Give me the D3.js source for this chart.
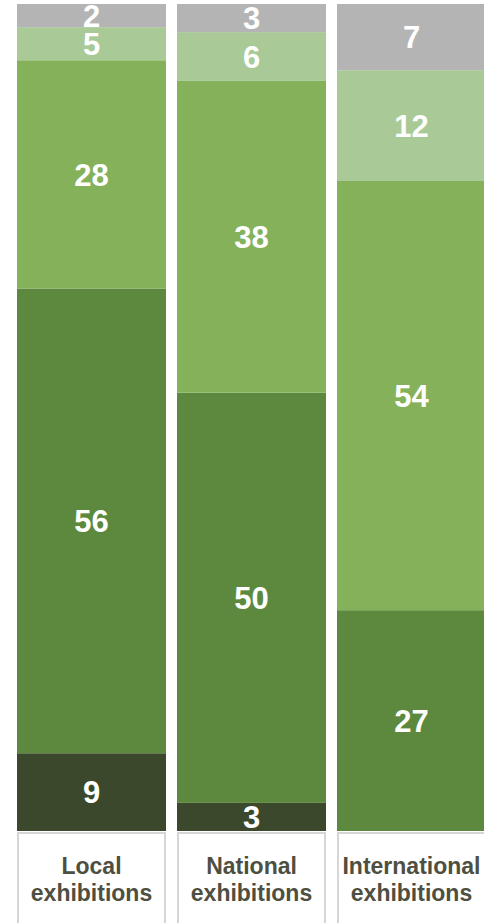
<!DOCTYPE html>
<html>
<head>
<meta charset="utf-8">
<script src="https://cdn.jsdelivr.net/npm/d3@7"></script>
<style>
  html, body { margin: 0; padding: 0; background: #fff; }
  svg { display: block; }
</style>
</head>
<body>
<script>
// categories, bottom line split in two
var categories = ["Local exhibitions", "National exhibitions", "International exhibitions"];
var catLines = [["Local", "exhibitions"], ["National", "exhibitions"], ["International", "exhibitions"]];

// segment keys, bottom to top
var keys = ["s1", "s2", "s3", "s4", "s5"];
var colors = ["#3b482b", "#5c893d", "#85b15b", "#a9ca96", "#b4b4b4"];

// shares (percent)
var s1 = [9.4, 3.4, 0];
var s2 = [56.2, 49.6, 26.7];
var s3 = [27.6, 37.7, 51.9];
var s4 = [4.0, 5.9, 13.4];
var s5 = [2.8, 3.4, 8.0];

// numbers printed on the segments
var lab1 = [9, 3, null];
var lab2 = [56, 50, 27];
var lab3 = [28, 38, 54];
var lab4 = [5, 6, 12];
var lab5 = [2, 3, 7];

var W = 484, H = 923;

var rows = categories.map(function(c, i) {
    return { cat: c, s1: s1[i], s2: s2[i], s3: s3[i], s4: s4[i], s5: s5[i] };
});
var labs = { s1: lab1, s2: lab2, s3: lab3, s4: lab4, s5: lab5 };

var svg = d3.select("body").append("svg")
    .attr("width", W)
    .attr("height", H);

var x = d3.scaleBand().domain(categories).range([17, 486]).paddingInner(0.06875).paddingOuter(0);
var y = d3.scaleLinear().domain([0, 100]).range([831, 4]);
var color = d3.scaleOrdinal().domain(keys).range(colors);

var series = d3.stack().keys(keys)(rows);

var layer = svg.selectAll("g.layer").data(series).enter().append("g")
    .attr("class", "layer")
    .attr("fill", function(d) { return color(d.key); });

layer.selectAll("rect").data(function(d) { return d; }).enter().append("rect")
    .attr("x", function(d) { return x(d.data.cat); })
    .attr("width", x.bandwidth())
    .attr("y", function(d) { return y(d[1]); })
    .attr("height", function(d) { return y(d[0]) - y(d[1]); });

// value labels
series.forEach(function(s) {
    svg.append("g").selectAll("text").data(s).enter()
        .filter(function(d, i) { return labs[s.key][i] != null; })
        .append("text")
        .attr("x", function(d) { return x(d.data.cat) + x.bandwidth() / 2; })
        .attr("y", function(d) { return (y(d[0]) + y(d[1])) / 2; })
        .attr("dy", "0.36em")
        .attr("text-anchor", "middle")
        .style("font-family", "'Liberation Sans', Arial, sans-serif")
        .style("font-weight", "bold")
        .style("font-size", "31px")
        .style("fill", "#fff")
        .text(function(d) { return labs[s.key][categories.indexOf(d.data.cat)]; });
});

// category boxes under the bars
var box = svg.append("g").selectAll("g").data(categories).enter().append("g");

box.append("rect")
    .attr("x", function(d) { return x(d) + 1; })
    .attr("y", 833)
    .attr("width", x.bandwidth() - 2)
    .attr("height", 200)
    .attr("fill", "#fff")
    .attr("stroke", "#d6d6d6")
    .attr("stroke-width", 2);

box.append("text")
    .attr("text-anchor", "middle")
    .attr("x", function(d) { return x(d) + x.bandwidth() / 2; })
    .style("font-family", "'Liberation Sans', Arial, sans-serif")
    .style("font-weight", "bold")
    .style("font-size", "23px")
    .style("fill", "#4f4f41")
    .selectAll("tspan").data(function(d, i) { return catLines[i]; }).enter().append("tspan")
    .attr("x", function() { return this.parentNode.getAttribute("x"); })
    .attr("y", function(d, i) { return 874 + i * 27; })
    .text(function(d) { return d; });
</script>
</body>
</html>
